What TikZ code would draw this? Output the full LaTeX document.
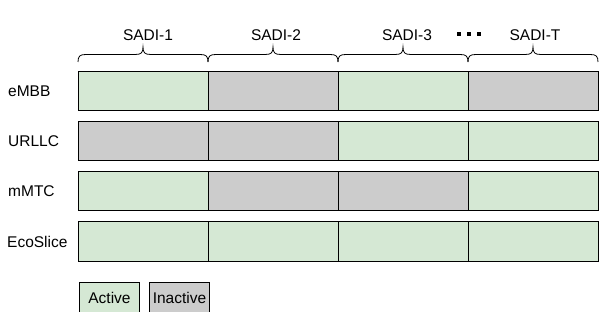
\documentclass[tikz,border=0pt]{standalone}
\usepackage{fontspec}
\setmainfont{Liberation Sans}
\begin{document}
\begin{tikzpicture}[x=1pt,y=-1pt,
  cell/.style={draw=black,line width=1pt,minimum width=130pt,minimum height=39pt,inner sep=0pt,outer sep=0pt,anchor=north west},
  act/.style={cell,fill=actgreen},
  ina/.style={cell,fill=inagray},
  lbl/.style={font=\fontsize{15.5}{18}\selectfont,inner sep=0pt,anchor=west},
  hdr/.style={font=\fontsize{15.5}{18}\selectfont,inner sep=0pt},
  brace/.style={draw=black,line width=0.8pt},
  dotsq/.style={fill=black,minimum width=4pt,minimum height=4pt,inner sep=0pt},
  legbox/.style={draw=black,line width=1pt,minimum width=60pt,minimum height=30pt,inner sep=0pt,anchor=north west,font=\fontsize{15.5}{18}\selectfont}
]
\definecolor{actgreen}{HTML}{D5E8D4}
\definecolor{inagray}{HTML}{CCCCCC}
\useasboundingbox (0,0) rectangle (599,312);
% rows: eMBB
\node[act] (a1) at (78,72) {};
\node[ina] (a2) at (208,72) {};
\node[act] (a3) at (338,72) {};
\node[ina] (a4) at (468,72) {};
% URLLC
\node[ina] (b1) at (78,122) {};
\node[ina] (b2) at (208,122) {};
\node[act] (b3) at (338,122) {};
\node[act] (b4) at (468,122) {};
% mMTC
\node[act] (c1) at (78,172) {};
\node[ina] (c2) at (208,172) {};
\node[ina] (c3) at (338,172) {};
\node[act] (c4) at (468,172) {};
% EcoSlice
\node[act] (d1) at (78,222) {};
\node[act] (d2) at (208,222) {};
\node[act] (d3) at (338,222) {};
\node[act] (d4) at (468,222) {};
% row labels
\node[lbl] (l1) at (8,91.5) {eMBB};
\node[lbl] (l2) at (8,141.5) {URLLC};
\node[lbl] (l3) at (8,191.5) {mMTC};
\node[lbl] (l4) at (7,241.5) {EcoSlice};
% braces
\foreach \xa/\xb in {78/208,208/338,338/468,468/598}{
  \pgfmathsetmacro{\xm}{(\xa+\xb)/2}
  \draw[brace] (\xa,62) .. controls (\xa,56) and (\xa+2,54.5) .. (\xa+8,54.5)
     -- (\xm-8,54.5) .. controls (\xm-2,54.5) and (\xm,53) .. (\xm,47)
     .. controls (\xm,53) and (\xm+2,54.5) .. (\xm+8,54.5)
     -- (\xb-8,54.5) .. controls (\xb-2,54.5) and (\xb,56) .. (\xb,62);
}
% headers
\node[hdr] (h1) at (148,35) {SADI-1};
\node[hdr] (h2) at (276,35) {SADI-2};
\node[hdr] (h3) at (407,35) {SADI-3};
\node[hdr] (h4) at (535,35) {SADI-T};
\node[dotsq] (dt1) at (458.5,33.7) {};
\node[dotsq] (dt2) at (469,33.7) {};
\node[dotsq] (dt3) at (479.3,33.7) {};
% legend
\node[legbox,fill=actgreen] (lega) at (79,282) {Active};
\node[legbox,fill=inagray] (legi) at (149,282) {Inactive};
\end{tikzpicture}
\end{document}
